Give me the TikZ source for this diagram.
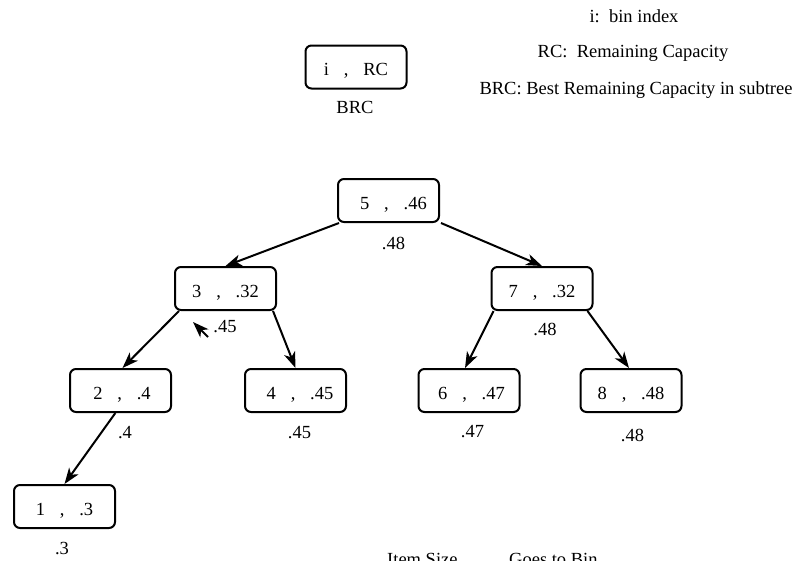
\documentclass[tikz,border=0pt]{standalone}
\usepackage{fontspec}
\setmainfont{Liberation Serif}
\usetikzlibrary{positioning, arrows.meta, calc}

\tikzset{
  binbox/.style={draw, line width=2pt, rounded corners=6pt,
                 minimum width=101pt, minimum height=43pt, inner sep=0pt,
                 text height=17.5pt, text depth=0pt},
  brclabel/.style={inner sep=0pt},
  legendtext/.style={inner sep=0pt, anchor=base},
  link/.style={line width=2pt, -{Stealth[length=16pt, width=11.5pt, inset=4.5pt]}},
}
\newcommand{\binpair}[2]{#1\hspace{0.8em},\hspace{0.8em}#2}

\begin{document}
\begin{tikzpicture}[x=1pt, y=-1pt, font=\fontsize{18.5}{21}\selectfont]
\useasboundingbox (0,0) rectangle (794,560);

%--- Legend (top)
\node[binbox] (key) at (356,67) {\binpair{i}{RC}};
\node[legendtext] (keybrc) at (355,113) {BRC};
\node[legendtext] (keyi)   at (634,22) {i:\ \ bin index};
\node[legendtext] (keyrc)  at (633,57) {RC:\ \ Remaining Capacity};
\node[legendtext] (keybest) at (636,94) {BRC: Best Remaining Capacity in subtree};

%--- Tree nodes (leading space nudges the text right where the original does)
\node[binbox] (n5) at (388.5,200.5) {\hspace{10pt}\binpair{5}{.46}};
\node[binbox] (n3) at (225.5,288.5) {\binpair{3}{.32}};
\node[binbox] (n7) at (542,288.5)   {\binpair{7}{.32}};
\node[binbox] (n2) at (120.5,390.5) {\hspace{3pt}\binpair{2}{.4}};
\node[binbox] (n4) at (295.5,390.5) {\hspace{9pt}\binpair{4}{.45}};
\node[binbox] (n6) at (469,390.5)   {\hspace{5pt}\binpair{6}{.47}};
\node[binbox] (n8) at (631,390.5)   {\binpair{8}{.48}};
\node[binbox] (n1) at (64.5,506.5)  {\binpair{1}{.3}};

%--- BRC values under each node
\node[brclabel] (b5) at (393.5,243.5) {.48};
\node[brclabel] (b3) at (225,327)     {.45};
\node[brclabel] (b7) at (545,329)     {.48};
\node[brclabel] (b2) at (125,433)     {.4};
\node[brclabel] (b4) at (299.5,433)   {.45};
\node[brclabel] (b6) at (472.5,432)   {.47};
\node[brclabel] (b8) at (632.5,435)   {.48};
\node[brclabel] (b1) at (62,548)      {.3};

%--- Tree edges
\draw[link] ($(n5.south west)+(2,0)$) -- (n3.north);
\draw[link] ($(n5.south east)+(1,0)$) -- (n7.north);
\draw[link] ($(n3.south west)+(5,0)$) -- ($(n2.north)+(2,0)$);
\draw[link] ($(n3.south east)+(-4,0)$) -- (n4.north);
\draw[link] ($(n7.south west)+(3,0)$) -- ($(n6.north)+(-4,0)$);
\draw[link] ($(n7.south east)+(-6,0)$) -- ($(n8.north)+(-2,0)$);
\draw[link] ($(n2.south west)!0.45!(n2.south east)$) -- (n1.north);

%--- Lone arrow tip beside the .45 label
\coordinate (straytail) at (208,337);
\coordinate (straytip)  at (193,322);
\draw[link] (straytail) -- (straytip);

%--- Table header (cut by the page edge)
\node[legendtext, anchor=base west] (itemsize) at (387,565) {Item Size};
\node[legendtext, anchor=base west] (goesto)   at (509,565) {Goes to Bin};

\end{tikzpicture}
\end{document}
